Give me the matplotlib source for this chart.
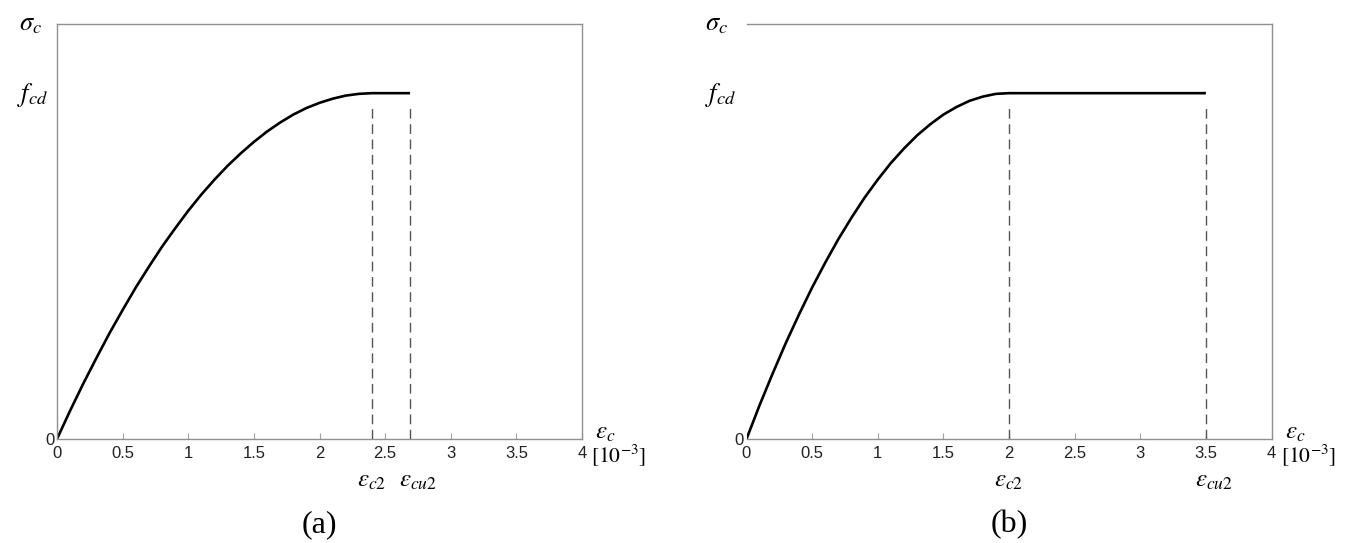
import matplotlib
matplotlib.use("Agg")
import matplotlib.pyplot as plt

plt.rcParams['mathtext.fontset'] = 'stix'
plt.rcParams['font.family'] = ['Liberation Sans', 'DejaVu Sans']

# ---- data ----
# panel (a)
eps_a = [0, 0.1, 0.2, 0.3, 0.4, 0.5, 0.6, 0.7, 0.8, 0.9, 1.0, 1.1, 1.2, 1.3,
         1.4, 1.5, 1.6, 1.7, 1.8, 1.9, 2.0, 2.1, 2.2, 2.3, 2.4, 2.69]
sig_a = [0, 0.082, 0.160, 0.234, 0.306, 0.373, 0.438, 0.498, 0.556, 0.609,
         0.660, 0.707, 0.750, 0.790, 0.826, 0.859, 0.889, 0.915, 0.938, 0.957,
         0.972, 0.984, 0.993, 0.998, 1.0, 1.0]
eps_c2_a = 2.40
eps_cu2_a = 2.69

# panel (b)
eps_b = [0, 0.1, 0.2, 0.3, 0.4, 0.5, 0.6, 0.7, 0.8, 0.9, 1.0, 1.1, 1.2, 1.3,
         1.4, 1.5, 1.6, 1.7, 1.8, 1.9, 2.0, 3.5]
sig_b = [0, 0.098, 0.190, 0.278, 0.360, 0.438, 0.510, 0.578, 0.640, 0.698,
         0.750, 0.798, 0.840, 0.878, 0.910, 0.938, 0.960, 0.978, 0.990, 0.998,
         1.0, 1.0]
eps_c2_b = 2.0
eps_cu2_b = 3.5

x_ticks = [0, 0.5, 1, 1.5, 2, 2.5, 3, 3.5, 4]
x_tick_labels = ['0', '0.5', '1', '1.5', '2', '2.5', '3', '3.5', '4']
panel_labels = ['(a)', '(b)']

W, H = 1346, 543
fig = plt.figure(figsize=(W / 100, H / 100), dpi=100)

def make_axes(x0px, panel, eps, sig, ec2, ecu2, show_left, sig_off, f_off):
    ax = fig.add_axes([x0px / W, (H - 439) / H, 525 / W, (439 - 24) / H])
    ax.plot(eps, sig, color='black', lw=1.9, solid_joinstyle='round',
            solid_capstyle='butt')
    ax.vlines([ec2, ecu2], 0, 0.96, colors='#555555', linestyles=(0, (7, 4)), lw=1.0)
    ax.set_xlim(0, 4)
    ax.set_ylim(0, 1.2)
    for s in ax.spines.values():
        s.set_color('#909090')
        s.set_linewidth(1.0)
    if not show_left:
        ax.spines['left'].set_visible(False)
    ax.set_xticks(x_ticks)
    ax.set_xticklabels(x_tick_labels)
    ax.tick_params(axis='x', direction='in', length=4, color='#a0a0a0',
                   labelsize=12, pad=5, labelcolor='#222222')
    ax.set_yticks([0])
    ax.set_yticklabels(['0'])
    ax.tick_params(axis='y', length=0, labelsize=12, pad=2, labelcolor='#222222')
    # math labels
    ax.text(sig_off, 1.2, r'$\sigma_c$', transform=ax.get_yaxis_transform(),
            ha='right', va='center', fontsize=19)
    ax.text(f_off, 0.995, r'$f_{cd}$', transform=ax.get_yaxis_transform(),
            ha='right', va='center', fontsize=19)
    ax.text(4.1, -0.015, r'$\varepsilon_c$', ha='left', va='bottom', fontsize=18,
            clip_on=False)
    ax.text(4.07, -0.01, r'$[10^{-3}]$', ha='left', va='top', fontsize=15.5,
            clip_on=False)
    ax.text(ec2, -0.085, r'$\varepsilon_{c2}$', ha='center', va='top', fontsize=18,
            clip_on=False)
    ax.text(ecu2 + 0.06, -0.085, r'$\varepsilon_{cu2}$', ha='center', va='top',
            fontsize=18, clip_on=False)
    ax.text(0.5, -0.207, panel, transform=ax.transAxes, ha='center', va='center',
            fontsize=23, family=['Liberation Serif'])
    ax.set_facecolor('white')
    return ax

make_axes(57, panel_labels[0], eps_a, sig_a, eps_c2_a, eps_cu2_a, True, -0.028, -0.017)
make_axes(746.5, panel_labels[1], eps_b, sig_b, eps_c2_b, eps_cu2_b, False, -0.036, -0.02)

fig.savefig('out.png', dpi=100, facecolor='white')
